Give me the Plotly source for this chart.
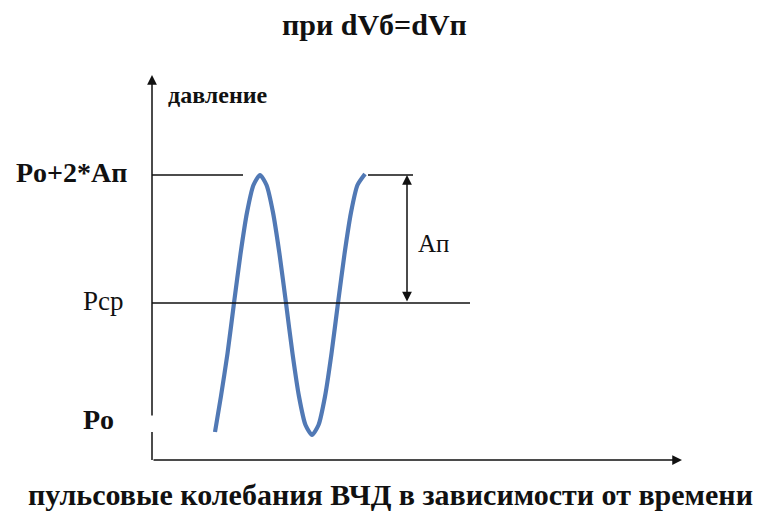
import plotly.graph_objects as go

# --- data (time t, pressure P; arbitrary units) ---
wave_t = [6.3, 6.9, 7.55, 8.2, 8.85, 9.5, 10.15, 10.8, 11.45, 12.1, 12.75, 13.4,
          14.05, 14.7, 15.35, 16.0, 16.65, 17.3, 17.95, 18.6, 19.25, 19.9, 20.55, 21.3]
wave_p = [2.8, 6.4, 10.65, 15.7, 20.6, 24.75, 27.5, 28.5, 27.5, 24.75, 20.6, 15.7,
          10.65, 6.35, 3.5, 2.5, 3.5, 6.35, 10.65, 15.7, 20.6, 24.75, 27.5, 28.6]

level_names = ["Po", "Рср", "Po+2*Ап"]
level_values = [4.0, 15.7, 28.5]

t_axis_end = 53.0
p_axis_end = 38.5
amp_t = 25.5

title_text = "при dVб=dVп"
y_label = "давление"
x_label = "пульсовые колебания ВЧД в зависимости от времени"
amp_label = "Ап"

serif = "Liberation Serif"
black = "#111111"

fig = go.Figure()
fig.add_trace(go.Scatter(x=wave_t, y=wave_p, mode="lines",
                         line=dict(color="#5179b5", width=4.2, shape="spline", smoothing=0.6),
                         hoverinfo="skip", showlegend=False))

P_o, P_cp, P_top = level_values

shapes = [
    dict(type="line", x0=0, x1=9.1, y0=P_top, y1=P_top, line=dict(color=black, width=1.3)),
    dict(type="line", x0=21.6, x1=26.1, y0=P_top, y1=P_top, line=dict(color=black, width=1.3)),
    dict(type="line", x0=0, x1=31.8, y0=P_cp, y1=P_cp, line=dict(color=black, width=1.3)),
    dict(type="line", x0=0, x1=0, y0=0, y1=2.8, line=dict(color=black, width=1.5)),
]

annotations = [
    dict(x=0, y=p_axis_end, ax=0, ay=4.3, xref="x", yref="y", axref="x", ayref="y",
         showarrow=True, arrowhead=2, arrowsize=1.3, arrowwidth=1.5, arrowcolor=black, text=""),
    dict(x=t_axis_end, y=0, ax=0, ay=0, xref="x", yref="y", axref="x", ayref="y",
         showarrow=True, arrowhead=2, arrowsize=1.3, arrowwidth=1.5, arrowcolor=black, text=""),
    dict(x=amp_t, y=P_top, ax=amp_t, ay=P_cp, xref="x", yref="y", axref="x", ayref="y",
         showarrow=True, arrowhead=2, startarrowhead=2, arrowside="end+start",
         arrowsize=1.3, startarrowsize=1.3, arrowwidth=1.5, arrowcolor=black, text=""),
    dict(x=26.4, y=21.7, xref="x", yref="y", text=amp_label, showarrow=False,
         xanchor="left", yanchor="middle", font=dict(family=serif, size=25, color=black)),
    dict(x=22.2, y=43.6, xref="x", yref="y", text="<b>" + title_text + "</b>", showarrow=False,
         xanchor="center", yanchor="middle", font=dict(family=serif, size=30, color=black)),
    dict(x=1.4, y=36.5, xref="x", yref="y", text="<b>" + y_label + "</b>", showarrow=False,
         xanchor="left", yanchor="middle", font=dict(family=serif, size=24, color=black)),
    dict(x=-2.3, y=28.8, xref="x", yref="y", text="<b>" + level_names[2] + "</b>", showarrow=False,
         xanchor="right", yanchor="middle", font=dict(family=serif, size=28, color=black)),
    dict(x=-2.6, y=P_cp + 0.2, xref="x", yref="y", text=level_names[1], showarrow=False,
         xanchor="right", yanchor="middle", font=dict(family=serif, size=27, color=black)),
    dict(x=-3.6, y=P_o + 0.1, xref="x", yref="y", text="<b>" + level_names[0] + "</b>", showarrow=False,
         xanchor="right", yanchor="middle", font=dict(family=serif, size=28, color=black)),
    dict(x=23.8, y=-3.4, xref="x", yref="y", text="<b>" + x_label + "</b>", showarrow=False,
         xanchor="center", yanchor="middle", font=dict(family=serif, size=30, color=black)),
]

fig.update_layout(
    width=776, height=512,
    margin=dict(l=0, r=0, t=0, b=0),
    paper_bgcolor="white", plot_bgcolor="white",
    font=dict(family=serif),
    xaxis=dict(range=[-15.2, 62.4], visible=False, fixedrange=True),
    yaxis=dict(range=[-5.2, 46.0], visible=False, fixedrange=True),
    shapes=shapes, annotations=annotations, showlegend=False,
)

fig.write_html("out.html", config={"displayModeBar": False},
               post_script="document.body.style.margin='0';document.body.style.overflow='hidden';")
